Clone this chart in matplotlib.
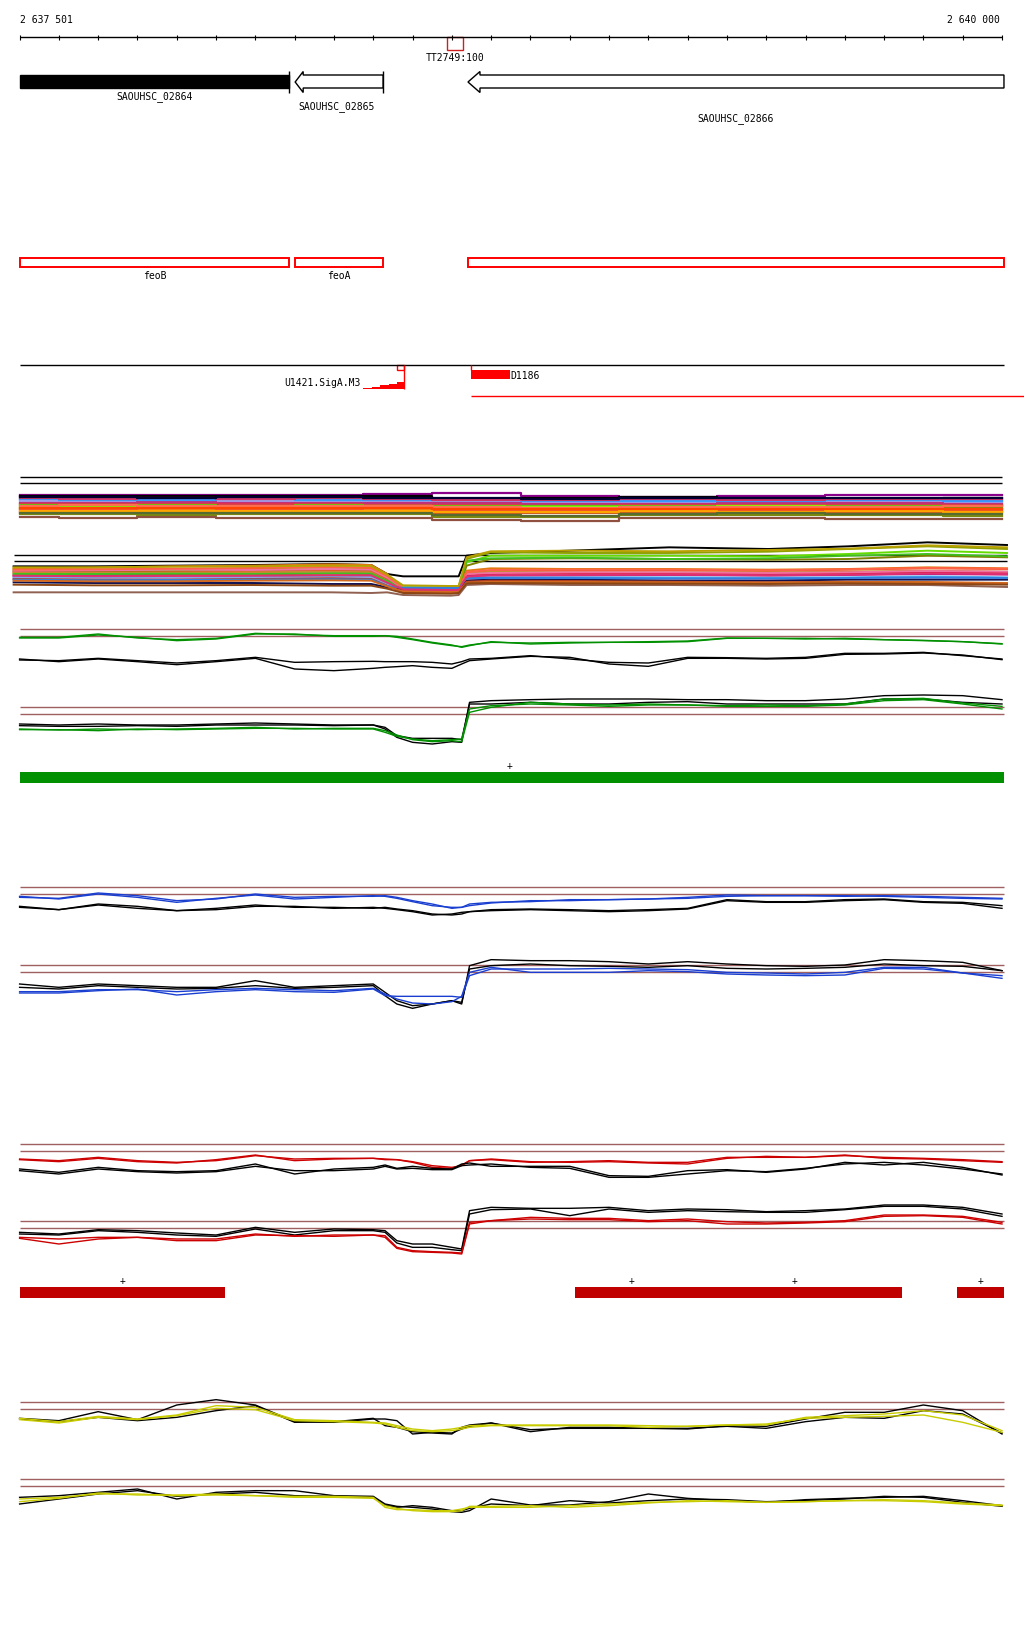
"""Genome browser view around feoAB (SAOUHSC_02864-02866), 2 637 501 - 2 640 000."""
import matplotlib
matplotlib.use("Agg")
import matplotlib.pyplot as plt
from matplotlib.patches import Rectangle, Polygon

W, H = 1024, 1640
START, END = 2637501, 2640000
PX0, PX1 = 20, 1002            # pixel columns of START / END on the ruler
BPP = (END - START) / (PX1 - PX0)
XLIM = (START - PX0 * BPP, START + (W - PX0) * BPP)
BPP2 = (END - START) / (1007 - 14)   # second expression bundle is a bit wider
XLIM2 = (START - 14 * BPP2, START + (W - 14) * BPP2)

FONT = dict(family="DejaVu Sans Mono", fontsize=7)
BROWN = "#a0605f"

# ---------------- annotation data ----------------
TICKS = list(range(2637500, 2640001, 100))
GENES = ["SAOUHSC_02864", "SAOUHSC_02865", "SAOUHSC_02866"]
GENE_START = [2637501, 2638186, 2638641]
GENE_END = [2638186, 2638425, 2640005]
TERM_NAME = "TT2749:100"
TERM_START, TERM_END = 2638588, 2638628
OPERONS = ["feoB", "feoA", ""]
OPERON_START = [2637501, 2638201, 2638641]
OPERON_END = [2638186, 2638425, 2640005]
PROMOTER = "U1421.SigA.M3"
PROM_START, PROM_END = 2638460, 2638478
SIGA_POS = [2638374, 2638397, 2638417, 2638440, 2638460, 2638478]
SIGA_SCORE = [1.0, 2.2, 3.6, 5.0, 7.0, 7.0]
TSS = "D1186"
TSS_START, TSS_END = 2638649, 2638748
GREEN_SEG = [(2637501, 2640005)]
GREEN_PLUS = [2638748]
RED_SEG = [(2637501, 2638023), (2638913, 2639200), (2639200, 2639746), (2639885, 2640005)]

# ---------------- expression bundles (tiling array, all conditions) ----------------
B1_POS = [2637500, 2637700, 2637900, 2638100, 2638300, 2638450, 2638650, 2638900,
          2639150, 2639400, 2639700, 2640000]
B1_COLORS = ["#8b008b", "#000000", "#6cb4ee", "#a4a0e8", "#c0307a", "#e03050", "#60c010",
             "#7fff00", "#8a8a00", "#e88a20", "#f05030", "#c85a20", "#7a8a10", "#905040",
             "#ff6f4f", "#3399ff", "#ffa500", "#cc3366", "#556b2f", "#ff4500", "#000033"]
B1_VALUES = [
    [-52, -52, -53, -53, -52, -51, -47, -57, -59, -55, -53, -52],
    [-55, -55, -55, -55, -55, -57, -65, -62, -60, -62, -65, -63],
    [-69, -69, -70, -69, -67, -68, -72, -73, -75, -73, -73, -72],
    [-72, -72, -71, -72, -73, -73, -75, -77, -78, -75, -75, -74],
    [-76, -77, -75, -76, -76, -78, -78, -81, -81, -78, -78, -79],
    [-80, -79, -81, -80, -81, -82, -83, -85, -84, -83, -82, -83],
    [-83, -84, -82, -85, -84, -85, -87, -87, -86, -87, -86, -85],
    [-88, -86, -87, -88, -86, -87, -89, -89, -88, -87, -89, -88],
    [-91, -92, -91, -92, -93, -91, -93, -94, -92, -93, -93, -92],
    [-95, -94, -96, -95, -96, -97, -97, -98, -97, -98, -97, -98],
    [-99, -98, -100, -98, -99, -100, -102, -101, -100, -101, -101, -100],
    [-104, -104, -103, -105, -104, -104, -106, -107, -105, -106, -106, -105],
    [-110, -109, -112, -110, -109, -111, -119, -120, -114, -112, -114, -116],
    [-120, -121, -120, -122, -121, -122, -127, -130, -123, -123, -125, -124],
    [-85, -84, -86, -85, -87, -86, -88, -91, -89, -88, -89, -87],
    [-66, -67, -67, -65, -67, -69, -69, -71, -71, -70, -69, -70],
    [-101, -100, -101, -102, -101, -102, -104, -104, -102, -103, -102, -103],
    [-63, -64, -63, -64, -63, -65, -67, -67, -66, -67, -65, -66],
    [-107, -106, -108, -107, -106, -108, -113, -115, -109, -108, -110, -109],
    [-92, -91, -92, -91, -92, -93, -94, -95, -94, -94, -95, -94],
    [-60, -60, -61, -60, -60, -62, -63, -64, -62, -63, -63, -62],
]
B2_POS = [2637500, 2637700, 2637900, 2638100, 2638300, 2638400, 2638440, 2638480, 2638600,
          2638620, 2638640, 2638700, 2638900, 2639150, 2639400, 2639600, 2639800, 2640000]
B2_COLORS = ["#000000", "#8fa000", "#66dd00", "#808000", "#e07a10", "#f04a28", "#c88a30",
             "#d81b3c", "#c02080", "#60b0f0", "#a8a0e0", "#101050", "#40c020", "#b04020",
             "#906050", "#f070a0", "#ff6347", "#3080e0", "#b8a000", "#e03070", "#d2691e",
             "#8b4513"]
B2_VALUES = [
    [-35, -35, -33, -31, -28, -31, -58, -65, -65, -65, -3, 5, 12, 22, 17, 25, 37, 29],
    [-43, -45, -43, -41, -38, -39, -63, -95, -97, -97, -13, 7, 5, 5, 9, 17, 25, 17],
    [-48, -49, -47, -46, -45, -43, -68, -98, -101, -101, -23, -3, -3, -3, -5, 2, 12, 5],
    [-51, -51, -51, -49, -47, -48, -71, -101, -103, -103, -33, -13, -11, -13, -15, -13, -3, -8],
    [-41, -39, -35, -33, -29, -31, -58, -105, -108, -108, -48, -41, -43, -43, -45, -43, -38, -41],
    [-53, -54, -53, -51, -49, -51, -75, -108, -111, -111, -53, -48, -48, -47, -49, -45, -41, -43],
    [-55, -55, -54, -53, -51, -53, -78, -111, -113, -111, -58, -51, -53, -53, -53, -51, -48, -51],
    [-61, -61, -59, -59, -57, -58, -81, -105, -106, -106, -63, -58, -56, -56, -58, -56, -53, -55],
    [-65, -63, -63, -65, -63, -63, -85, -108, -110, -109, -65, -63, -63, -61, -63, -61, -58, -60],
    [-68, -69, -69, -68, -67, -68, -88, -98, -98, -98, -68, -68, -68, -68, -69, -68, -65, -68],
    [-71, -73, -71, -71, -70, -71, -91, -103, -103, -103, -75, -73, -73, -73, -73, -73, -71, -73],
    [-83, -85, -85, -85, -88, -88, -98, -103, -103, -103, -78, -75, -75, -78, -78, -75, -75, -75],
    [-58, -58, -57, -58, -56, -57, -79, -99, -101, -99, -18, -11, -9, -13, -11, -3, 2, -5],
    [-73, -75, -75, -73, -71, -73, -93, -113, -115, -115, -81, -78, -79, -81, -83, -81, -85, -88],
    [-113, -113, -113, -113, -113, -115, -113, -121, -123, -121, -91, -88, -91, -91, -93, -91, -91, -97],
    [-48, -47, -45, -46, -43, -45, -69, -101, -103, -103, -58, -55, -53, -53, -55, -53, -49, -51],
    [-45, -44, -42, -40, -37, -40, -64, -100, -102, -102, -52, -46, -45, -45, -47, -44, -40, -42],
    [-75, -77, -76, -75, -74, -75, -94, -100, -100, -100, -70, -70, -70, -71, -71, -70, -68, -70],
    [-38, -38, -36, -35, -33, -34, -60, -92, -94, -94, -8, 10, 12, 10, 14, 18, 28, 22],
    [-63, -65, -64, -63, -62, -62, -84, -104, -106, -106, -66, -62, -61, -60, -62, -60, -56, -58],
    [-78, -80, -80, -78, -77, -78, -95, -110, -112, -112, -84, -82, -82, -83, -84, -82, -82, -85],
    [-90, -92, -92, -91, -93, -93, -102, -115, -117, -115, -86, -85, -86, -87, -88, -86, -88, -90],
]

# ---------------- per-condition profiles (two replicates each) ----------------
POS = [2637500, 2637600, 2637700, 2637800, 2637900, 2638000, 2638100, 2638200, 2638300,
       2638400, 2638430, 2638460, 2638500, 2638550, 2638600, 2638625, 2638645, 2638700,
       2638800, 2638900, 2639000, 2639100, 2639200, 2639300, 2639400, 2639500, 2639600,
       2639700, 2639800, 2639900, 2640000]

# green condition
GREEN_UP_COND = [
    [-24, -24, -14, -26, -31, -27, -12, -16, -19, -19, -19, -21, -29, -39, -47, -54, -49, -37,
     -44, -41, -39, -39, -37, -27, -27, -29, -27, -31, -34, -37, -44],
    [-26, -26, -17, -24, -34, -29, -14, -14, -21, -21, -19, -24, -31, -41, -49, -52, -47, -39,
     -41, -39, -39, -37, -35, -26, -27, -27, -29, -31, -33, -37, -43],
]
GREEN_UP_REF = [
    [-89, -97, -89, -97, -106, -97, -87, -119, -124, -117, -114, -112, -109, -114, -117, -104,
     -94, -89, -81, -84, -104, -111, -87, -87, -89, -87, -75, -74, -71, -77, -91],
    [-92, -94, -87, -94, -101, -94, -84, -99, -97, -96, -97, -97, -97, -99, -104, -97, -89, -87,
     -79, -89, -99, -101, -84, -85, -87, -84, -72, -72, -69, -79, -89],
]
GREEN_DN_REF = [
    [-50, -53, -50, -53, -53, -50, -47, -50, -53, -53, -65, -90, -105, -110, -103, -105, 15, 20,
     23, 25, 25, 25, 23, 23, 20, 20, 25, 35, 37, 35, 23],
    [-55, -57, -57, -55, -57, -53, -53, -53, -55, -53, -60, -85, -93, -93, -93, -97, 10, 10, 15,
     10, 10, 15, 17, 10, 10, 10, 10, 25, 25, 15, 10],
]
GREEN_DN_COND = [
    [-67, -67, -70, -65, -67, -65, -63, -63, -65, -65, -75, -87, -95, -100, -97, -95, -5, 5, 10,
     7, 3, 7, 7, 3, 3, 3, 7, 20, 23, 10, -5],
    [-65, -68, -65, -67, -65, -63, -60, -65, -63, -63, -70, -83, -97, -103, -100, -103, -15, 0,
     15, 10, 7, 10, 7, 5, 7, 5, 10, 25, 27, 13, 3],
]

# blue condition
BLUE_UP_COND = [
    [-30, -33, -17, -25, -40, -35, -20, -30, -27, -27, -25, -30, -40, -50, -63, -60, -55, -47,
     -40, -40, -37, -35, -33, -27, -25, -25, -25, -27, -30, -33, -35],
    [-27, -35, -20, -30, -45, -33, -23, -35, -30, -25, -27, -33, -43, -55, -60, -60, -50, -45,
     -43, -37, -37, -35, -30, -23, -25, -25, -27, -25, -27, -30, -33],
]
BLUE_UP_REF = [
    [-57, -67, -50, -57, -70, -63, -53, -60, -60, -63, -60, -65, -70, -80, -83, -80, -73, -70,
     -67, -70, -73, -70, -65, -40, -45, -45, -40, -37, -45, -48, -63],
    [-60, -67, -53, -63, -70, -67, -57, -57, -63, -60, -63, -67, -73, -83, -80, -75, -73, -67,
     -65, -67, -70, -67, -63, -37, -43, -43, -37, -35, -43, -45, -55],
]
BLUE_DN_REF = [
    [-58, -68, -58, -63, -68, -68, -48, -68, -63, -58, -83, -108, -123, -118, -108, -118, -3,
     15, 12, 12, 9, 2, 9, 2, -3, -5, -1, 15, 12, 7, -18],
    [-68, -73, -63, -68, -73, -71, -63, -71, -68, -63, -93, -118, -131, -118, -108, -113, -13,
     -3, 2, -3, -5, -8, -3, -11, -13, -11, -8, 2, -3, -5, -18],
]
BLUE_DN_COND = [
    [-81, -81, -75, -75, -81, -75, -71, -75, -78, -71, -88, -103, -115, -118, -111, -95, -23,
     -8, -23, -23, -23, -18, -21, -28, -31, -33, -31, -11, -13, -25, -33],
    [-85, -85, -78, -73, -91, -81, -75, -81, -83, -73, -93, -95, -95, -95, -95, -98, -33, -13,
     -13, -13, -11, -13, -15, -23, -25, -28, -23, -8, -8, -25, -41],
]

# red condition
RED_UP_COND = [
    [-44, -49, -39, -49, -54, -49, -34, -44, -42, -42, -44, -46, -52, -64, -69, -64, -49, -46,
     -54, -52, -49, -54, -54, -39, -39, -39, -34, -39, -42, -46, -52],
    [-46, -52, -42, -52, -56, -46, -32, -49, -44, -42, -46, -46, -54, -69, -72, -62, -49, -44,
     -52, -54, -52, -56, -59, -42, -36, -39, -32, -42, -44, -49, -54],
]
RED_UP_REF = [
    [-74, -84, -69, -79, -82, -79, -59, -89, -74, -69, -62, -72, -66, -72, -74, -59, -56, -66,
     -66, -66, -94, -96, -79, -76, -84, -74, -54, -62, -54, -69, -92],
    [-79, -89, -74, -82, -86, -82, -66, -79, -79, -74, -66, -74, -72, -76, -76, -64, -62, -59,
     -69, -72, -99, -99, -89, -79, -82, -72, -59, -54, -62, -74, -89],
]
RED_DN_REF = [
    [-33, -38, -25, -28, -35, -41, -18, -33, -23, -25, -28, -58, -68, -68, -78, -83, 32, 42, 39,
     39, 42, 32, 37, 35, 29, 32, 37, 49, 49, 42, 22],
    [-38, -41, -28, -33, -41, -45, -23, -41, -28, -28, -33, -65, -78, -78, -85, -88, 22, 35, 37,
     17, 37, 27, 32, 29, 27, 27, 35, 45, 45, 37, 15],
]
RED_DN_COND = [
    [-48, -53, -48, -48, -53, -53, -38, -45, -41, -41, -43, -78, -88, -91, -93, -95, -3, 2, 12,
     9, 9, 2, 7, -1, -5, -3, 2, 19, 19, 15, -3],
    [-51, -68, -53, -48, -58, -58, -41, -43, -45, -41, -48, -81, -91, -93, -95, -98, -8, 2, 7,
     5, 5, -1, 2, -8, -8, -5, -1, 15, 17, 12, -8],
]

# yellow condition
YEL_UP_REF = [
    [-48, -55, -28, -52, -8, 8, -8, -58, -60, -50, -50, -55, -95, -90, -92, -80, -72, -62, -82,
     -78, -78, -78, -80, -70, -72, -50, -30, -30, -8, -25, -95],
    [-50, -58, -45, -55, -45, -25, -10, -60, -58, -48, -70, -75, -88, -92, -95, -75, -68, -62,
     -88, -75, -75, -78, -78, -72, -78, -58, -45, -48, -25, -35, -92],
]
YEL_UP_COND = [
    [-48, -58, -42, -50, -38, -10, -15, -52, -55, -60, -62, -70, -80, -85, -80, -75, -70, -68,
     -68, -68, -68, -70, -72, -68, -68, -45, -40, -35, -25, -38, -85],
    [-52, -62, -45, -52, -40, -18, -22, -55, -58, -62, -65, -75, -85, -88, -85, -80, -75, -70,
     -70, -70, -70, -75, -72, -68, -65, -48, -45, -42, -38, -60, -90],
]
YEL_DN_REF = [
    [-55, -50, -40, -30, -60, -40, -35, -35, -50, -52, -75, -82, -85, -90, -98, -100, -95, -60,
     -78, -78, -68, -45, -58, -65, -70, -62, -58, -55, -52, -65, -80],
    [-75, -60, -45, -35, -52, -45, -40, -50, -52, -55, -78, -85, -80, -85, -95, -95, -88, -75,
     -80, -65, -72, -65, -60, -62, -68, -65, -60, -52, -55, -70, -82],
]
YEL_DN_COND = [
    [-60, -55, -45, -45, -50, -48, -50, -52, -52, -55, -85, -92, -92, -95, -95, -90, -85, -85,
     -85, -80, -75, -70, -68, -65, -70, -68, -65, -62, -65, -72, -78],
    [-68, -58, -42, -48, -48, -45, -50, -55, -55, -58, -80, -88, -95, -98, -98, -95, -82, -82,
     -80, -85, -80, -72, -65, -68, -70, -68, -65, -65, -68, -75, -80],
]


fig = plt.figure(figsize=(W / 100, H / 100), dpi=100)
ax = fig.add_axes([0, 0, 1, 1])
ax.set_xlim(*XLIM)
ax.set_ylim(H, 0)
ax.axis("off")


def band(off, span, ref, xlim=XLIM):
    """Axes over pixel rows off..off+span; value 'ref' sits at row off, 3 units per pixel."""
    a = fig.add_axes([0, 1 - (off + span) / H, 1, span / H])
    a.set_xlim(*xlim)
    a.set_ylim(ref - 3 * span, ref)
    a.axis("off")
    return a


# ---- ruler ----
ax.hlines(38, START, END, color="black", lw=1)
ax.vlines(TICKS, 35.5, 41, color="black", lw=0.8)
ax.text(START, 20, f"{START:,}".replace(",", " "), ha="left", va="center", **FONT)
ax.text(END - 2 * BPP, 20, f"{END:,}".replace(",", " "), ha="right", va="center", **FONT)
ax.add_patch(Rectangle((TERM_START, 38), TERM_END - TERM_START, 13, fill=False,
                       ec="#cc2020", lw=1))
ax.text((TERM_START + TERM_END) / 2, 58, TERM_NAME, ha="center", va="center", **FONT)

# ---- genes ----
label_y = [97, 107, 119]
for i, name in enumerate(GENES):
    s, e = GENE_START[i], GENE_END[i]
    if i == 0:
        ax.add_patch(Rectangle((s, 76), e - s, 13, fc="black", ec="black", lw=1))
    else:
        tip = s + (6 * BPP if i == 1 else 0)
        head = tip + (8 if i == 1 else 12) * BPP
        ax.add_patch(Polygon([(tip, 83), (head, 72.5), (head, 76), (e, 76), (e, 89),
                              (head, 89), (head, 93.5)], closed=True, fc="white",
                             ec="black", lw=1))
        if i == 1:
            ax.vlines([s, e], 72, 93.5, color="black", lw=1)
    ax.text((s + e) / 2, label_y[i], name, ha="center", va="center", **FONT)

# ---- operons ----
for name, s, e in zip(OPERONS, OPERON_START, OPERON_END):
    ax.add_patch(Rectangle((s, 258.5), e - s, 9.5, fill=False, ec="#ff0000", lw=1.4))
    if name:
        ax.text((s + e) / 2, 276, name, ha="center", va="center", **FONT)

# ---- promoters / TSS ----
ax.hlines(366, START, END + 5, color="black", lw=1)
ax.add_patch(Rectangle((PROM_START, 366), PROM_END - PROM_START, 4.5, fill=False,
                       ec="#ff0000", lw=1))
ax.vlines(PROM_END, 366, 390, color="#ff0000", lw=1)
ax.fill_between(SIGA_POS, [390] * len(SIGA_POS), [390 - v for v in SIGA_SCORE],
                step="post", color="#ff0000", lw=0)
ax.text(SIGA_POS[0] - 2 * BPP, 383, PROMOTER, ha="right", va="center", **FONT)
ax.vlines(TSS_START, 366, 371, color="#ff0000", lw=1)
ax.add_patch(Rectangle((TSS_START, 371), TSS_END - TSS_START, 9, fc="#ff0000", lw=0))
ax.text(TSS_END, 376, TSS, ha="left", va="center", **FONT)
ax.hlines(397, TSS_START, XLIM[1], color="#ff0000", lw=1)

# ---- expression bundles ----
b1 = band(460, 70, 55)
b1.hlines([0, -18], START, END, color="black", lw=1)
for c, v in zip(B1_COLORS, B1_VALUES):
    b1.plot(B1_POS, v, color=c, lw=1.6, drawstyle="steps-mid")

b2 = band(460, 150, 287, xlim=XLIM2)
b2.hlines([0, -20], START, END, color="black", lw=1)
for c, v in zip(B2_COLORS, B2_VALUES):
    b2.plot(B2_POS, v, color=c, lw=1.4)


# ---- condition panels ----
def panel(off, span, refs, groups):
    for ref, grp in zip(refs, groups):
        a = band(off, span, ref)
        a.hlines([0, -21], START, END + 5, color=BROWN, lw=1)
        for color, lines in grp:
            for v in lines:
                a.plot(POS, v, color=color, lw=1.0)


panel(620, 170, [31, 265], [
    [("#009000", GREEN_UP_COND), ("black", GREEN_UP_REF)],
    [("black", GREEN_DN_REF), ("#009000", GREEN_DN_COND)],
])
panel(870, 150, [55, 287], [
    [("#1a3fd0", BLUE_UP_COND), ("black", BLUE_UP_REF)],
    [("black", BLUE_DN_REF), ("#1a3fd0", BLUE_DN_COND)],
])
panel(1130, 180, [46, 277], [
    [("#cc0000", RED_UP_COND), ("black", RED_UP_REF)],
    [("black", RED_DN_REF), ("#cc0000", RED_DN_COND)],
])
panel(1380, 140, [70, 300], [
    [("black", YEL_UP_REF), ("#c8cc00", YEL_UP_COND)],
    [("black", YEL_DN_REF), ("#c8cc00", YEL_DN_COND)],
])

# ---- segment bars with strand markers ----
for s, e in GREEN_SEG:
    ax.add_patch(Rectangle((s, 773), e - s, 11, fc="#009000", lw=0))
for p in GREEN_PLUS:
    ax.text(p, 766, "+", ha="center", va="center", **FONT)
for s, e in RED_SEG:
    ax.add_patch(Rectangle((s, 1288), e - s, 11, fc="#c00000", lw=0))
    ax.text((s + e) / 2, 1281, "+", ha="center", va="center", **FONT)

fig.savefig("out.png", dpi=100)
